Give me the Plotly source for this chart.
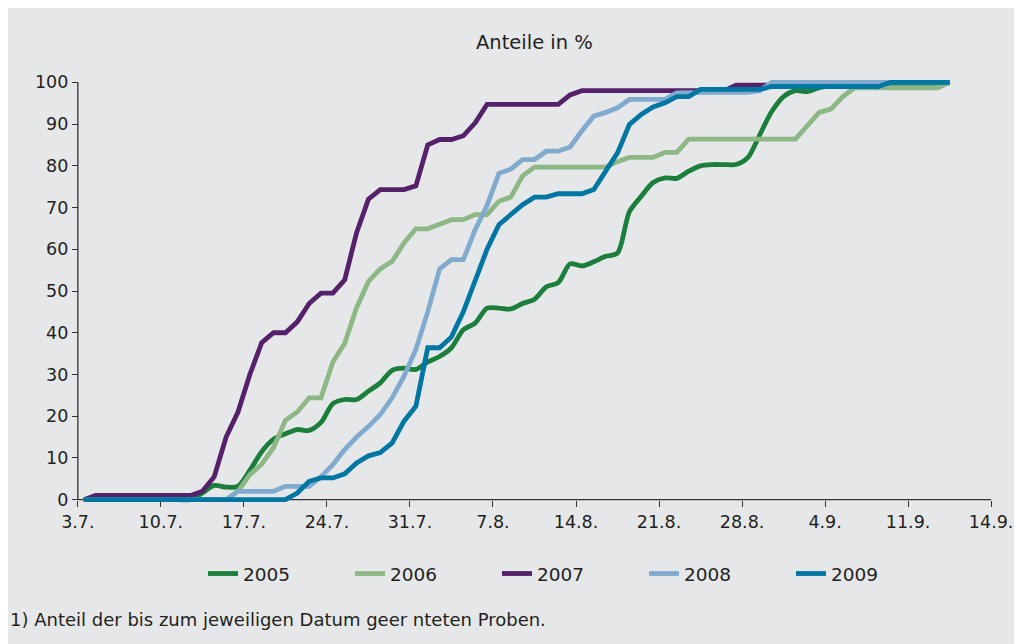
import plotly.graph_objects as go

# days since 3.7. (one point per day, 3.7. .. 14.9.)
days = list(range(74))

tick_labels = ["3.7.", "10.7.", "17.7.", "24.7.", "31.7.", "7.8.", "14.8.",
               "21.8.", "28.8.", "4.9.", "11.9.", "14.9."]
y_ticks = [0, 10, 20, 30, 40, 50, 60, 70, 80, 90, 100]

s2005 = [0] * 10 + [
    1.6, 3.4, 3.0, 3.2, 7, 11.5, 14.5, 15.8, 16.8, 16.6,
    18.5, 23, 24, 24, 26, 28, 31, 31.5, 31.2, 33,
    34.3, 36.4, 40.7, 42.3, 45.9, 45.9, 45.7, 47, 48, 51,
    52, 56.5, 56, 57, 58.3, 59.1, 69, 72.7, 76, 77.1,
    77, 78.7, 80, 80.3, 80.3, 80.3, 82, 87.5, 93, 96.6,
    98, 97.8, 98.7] + [99.3] * 10 + [100]

s2006 = [0] * 13 + [
    2, 6, 8.5, 12.5, 19, 21, 24.4, 24.4, 33, 37.5,
    46, 52.3, 55.3, 57.1, 61.5, 64.9, 64.9, 66.1, 67.1, 67.1,
    68.3, 68.3, 71.5, 72.5, 77.6, 79.7] + [79.7] * 6 + [
    81, 82, 82, 82, 83.2, 83.2, 86.4] + [86.4] * 9 + [
    89.6, 92.8, 93.6, 96.6, 98.7] + [98.7] * 7 + [100]

s2007 = [0] + [1] * 9 + [
    2, 5.5, 15, 21, 30, 37.6, 40, 40, 42.6, 47,
    49.5, 49.5, 52.7, 64, 72, 74.3, 74.3, 74.3, 75.2, 85,
    86.3, 86.3, 87.2, 90.3, 94.7] + [94.7] * 6 + [97, 98] + [98] * 12 + [99.3] + [99.3] * 12 + [100] * 6

s2008 = [0] * 13 + [
    2, 2, 2, 2, 3.2, 3.2, 3.2, 5.5, 8.4, 12,
    15, 17.5, 20.4, 24.4, 29.6, 36, 45, 55.3, 57.5, 57.5,
    64.7, 70.5, 78.2, 79.2, 81.5, 81.5, 83.5, 83.5, 84.5, 88.4,
    91.9, 92.8, 93.9, 95.9, 95.9, 95.9, 95.9, 97.5] + [97.6] * 6 + [98] + [100] * 16

s2009 = [0] * 18 + [
    1.6, 4.4, 5.2, 5.2, 6.2, 8.8, 10.5, 11.3, 13.6, 18.8,
    22.4, 36.4, 36.4, 39, 45, 52.5, 60, 65.9, 68.3, 70.7,
    72.5, 72.5, 73.3, 73.3, 73.3, 74.3, 78.7, 83.1, 89.9, 92.3,
    94.1, 95.1, 96.6, 96.6, 98.3] + [98.3] * 5 + [99] + [99] * 9 + [100] * 6

series = [
    ("2005", s2005, "#1b7f3b", "spline"),
    ("2006", s2006, "#8db886", "linear"),
    ("2007", s2007, "#55216b", "linear"),
    ("2008", s2008, "#80abce", "linear"),
    ("2009", s2009, "#0076a3", "linear"),
]

FONT = "DejaVu Sans"
TXT = "#231f20"
BG = "#e6e7e9"

# plot area on screen: left 66, width 937, top 74, height 434
# (the page adds an 8px body margin, so margins are 8px smaller)
def px_x(p):
    return (p - 66) / 937

def px_y(p):
    return (508 - p) / 434

fig = go.Figure()
for name, vals, col, shape in series:
    fig.add_trace(go.Scatter(
        x=days, y=vals, name=name, mode="lines",
        line=dict(color=col, width=4.8, shape=shape, smoothing=0.8),
    ))

tickvals = [-0.5 + 7 * i for i in range(len(tick_labels))]

fig.update_layout(
    width=1022, height=644,
    margin=dict(l=58, r=27, t=66, b=144, autoexpand=False),
    paper_bgcolor="white",
    plot_bgcolor=BG,
    font=dict(family=FONT, size=17, color=TXT),
    showlegend=True,
    legend=dict(
        orientation="h", x=px_x(203), xanchor="left", y=px_y(574), yanchor="middle",
        entrywidth=102, entrywidthmode="pixels",
        bgcolor="rgba(0,0,0,0)", font=dict(size=18.5),
    ),
    xaxis=dict(
        range=[-1.5, 77.5], showgrid=False, zeroline=False, showline=False,
        tickvals=tickvals, ticktext=tick_labels, tickfont=dict(size=17.5),
        ticks="outside", ticklen=6, tickwidth=1.3, tickcolor="#333333",
        anchor="free", position=2 / 104,
    ),
    yaxis=dict(
        range=[-2, 102], showgrid=False, zeroline=False, showline=False,
        tickvals=y_ticks, ticks="outside", ticklen=6, tickwidth=1.3,
        tickcolor="#333333", anchor="free", position=1 / 79, tickfont=dict(size=17.5),
    ),
    shapes=[
        dict(type="rect", xref="paper", yref="paper", x0=px_x(-20), x1=px_x(1060),
             y0=px_y(700), y1=px_y(0), fillcolor=BG, line=dict(width=0), layer="below"),
        dict(type="line", xref="x", yref="y", x0=-0.5, x1=76.5, y0=0, y1=0,
             line=dict(color="#333333", width=1.3), layer="below"),
        dict(type="line", xref="x", yref="y", x0=-0.5, x1=-0.5, y0=0, y1=100,
             line=dict(color="#333333", width=1.3), layer="below"),
    ],
    annotations=[
        dict(text="Anteile in %", xref="paper", yref="paper", x=0.5, y=px_y(42),
             xanchor="center", yanchor="middle", showarrow=False, font=dict(size=19.5)),
        dict(text="1) Anteil der bis zum jeweiligen Datum geer nteten Proben.",
             xref="paper", yref="paper", x=px_x(8), y=px_y(619),
             xanchor="left", yanchor="middle", showarrow=False, font=dict(size=18)),
    ],
)

fig.write_html("out.html")
